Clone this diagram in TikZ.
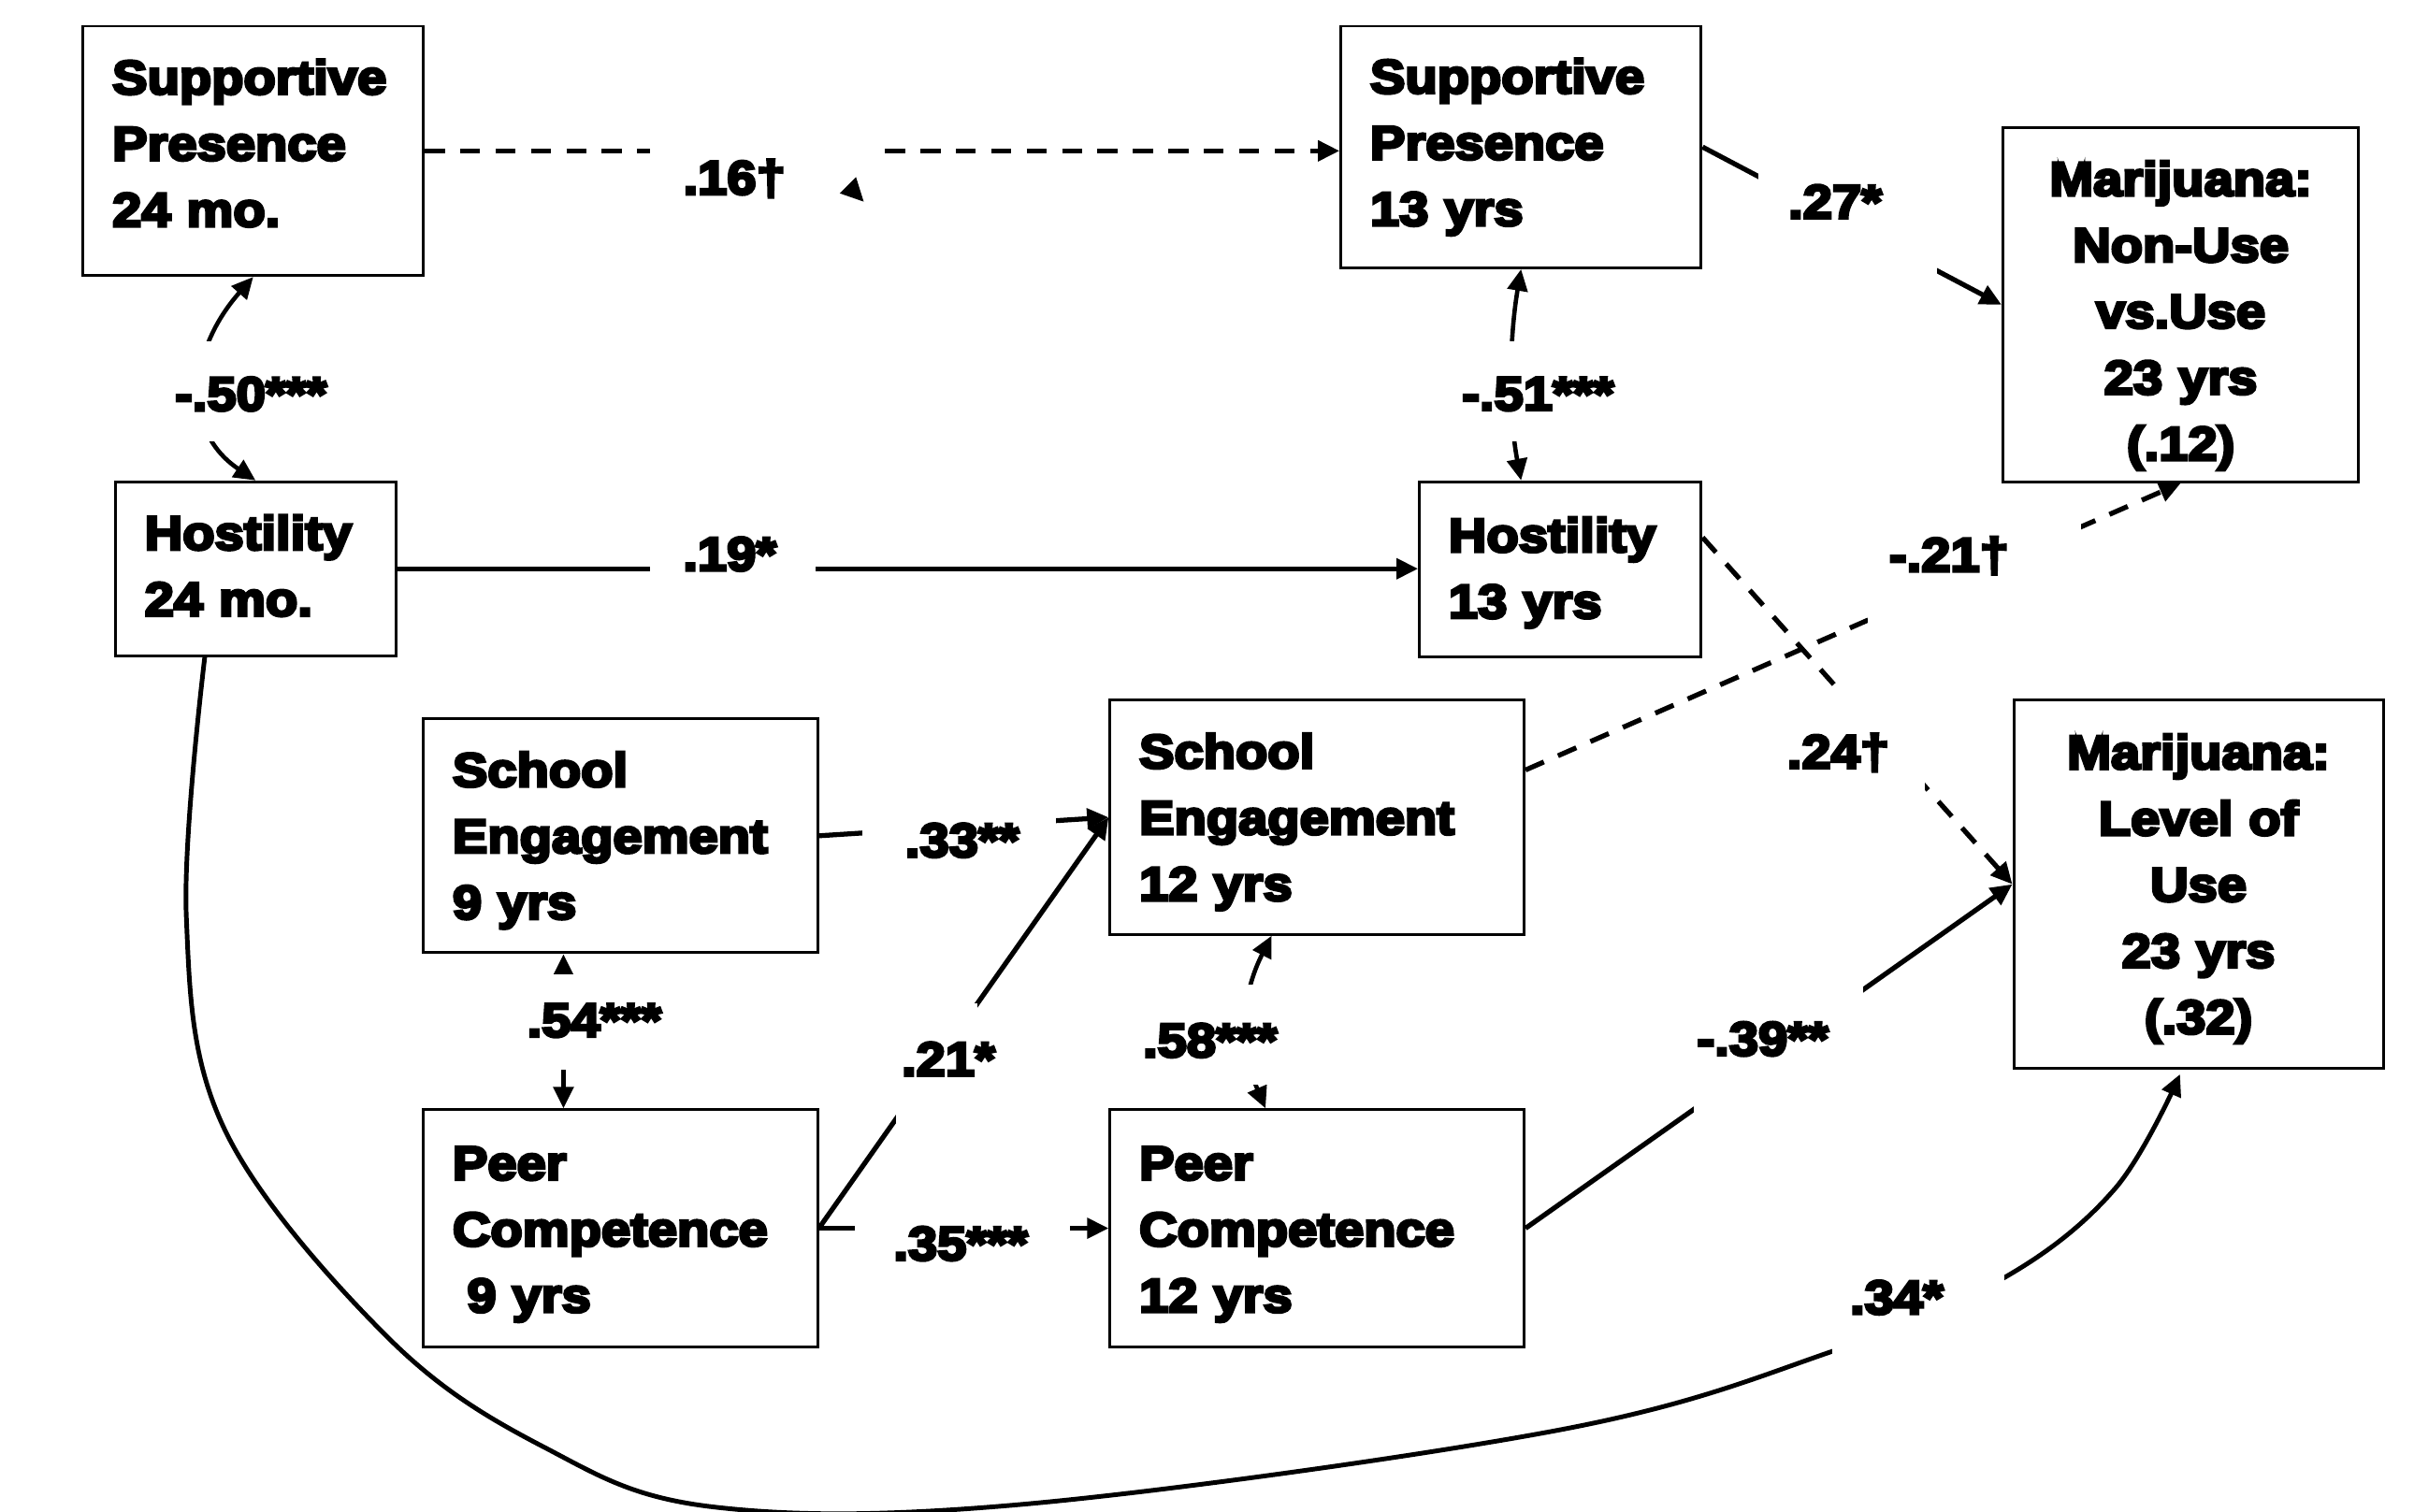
\documentclass[tikz,border=0pt]{standalone}
\usepackage{fontspec}
\newfontfamily\heavyfont{Liberation Sans}[BoldFeatures={FakeBold=6,FakeStretch=1.1}]
\usetikzlibrary{arrows.meta,calc}
\newcommand\diagfont{\heavyfont\bfseries\fontsize{15.5}{21.5}\selectfont}
\begin{document}
\begin{tikzpicture}[x=0.5pt,y=-0.5pt,
  >={Triangle[length=7pt,width=6.5pt]},
  vbox/.style={draw, line width=0.9pt, inner xsep=9.5pt, inner ysep=0pt, font=\diagfont, align=left},
  cbox/.style={vbox, align=center},
  tup/.style={execute at end node={\endgraf\vspace*{#1}}},
  conn/.style={line width=1.6pt, ->},
  dconn/.style={conn, dash pattern=on 6.5pt off 5pt},
  corr/.style={line width=1.4pt, <->},
  lbl/.style={font=\diagfont, inner sep=1pt}]
\useasboundingbox (0,0) rectangle (1568,982);
\fill[white] (0,0) rectangle (1568,982);
% boxes
\node[vbox, tup=5pt, text width=91.5pt, minimum height=81pt] (sp24) at (164.5,98) {Supportive\\Presence\\24 mo.};
\node[vbox, text width=98pt, minimum height=78.5pt] (sp13) at (988,95.5) {Supportive\\Presence\\13 yrs};
\node[cbox, tup=-7pt, text width=96.5pt, minimum height=115pt] (mj1) at (1416.5,198) {Marijuana:\\Non-Use\\vs.Use\\23 yrs\\(.12)};
\node[vbox, tup=2pt, text width=72pt, minimum height=56.5pt] (h24) at (166,369.5) {Hostility\\24 mo.};
\node[vbox, tup=-2pt, text width=72.5pt, minimum height=57pt] (h13) at (1013.5,370) {Hostility\\13 yrs};
\node[vbox, tup=-3pt, text width=109pt, minimum height=76pt] (se9) at (403,543) {School\\Engagement\\9 yrs};
\node[vbox, tup=-3pt, text width=115.5pt, minimum height=76pt] (se12) at (855.5,531) {School\\Engagement\\12 yrs};
\node[cbox, tup=-3pt, text width=101pt, minimum height=119.5pt] (mj2) at (1428,574.5) {Marijuana:\\Level of\\Use\\23 yrs\\(.32)};
\node[vbox, tup=-4pt, text width=109pt, minimum height=77pt] (pc9) at (403,798) {Peer\\Competence\\\hspace*{4.7pt}9 yrs};
\node[vbox, tup=-4pt, text width=115.5pt, minimum height=77pt] (pc12) at (855.5,798) {Peer\\Competence\\12 yrs};
% connectors
\draw[dconn] (sp24.east) -- (sp24.east -| sp13.west);
\draw[conn] (h24.east) -- (h24.east -| h13.west);
\draw[conn] (sp13.east) -- (mj1.west);
\draw[dconn] ($(se12.north east)!0.3!(se12.south east)$) -- (mj1.south);
\draw[dconn] ($(h13.north east)!0.32!(h13.south east)$) -- (mj2.west);
\draw[conn] (se9.east) -- (se12.west);
\draw[conn] (pc9.east) -- (se12.west);
\draw[conn] (pc9.east) -- (pc12.west);
\draw[conn] (pc12.east) -- (mj2.west);
\draw[corr] ($(se9.south)+(-37,0)$) -- ($(pc9.north)+(-37,0)$);
\draw[corr] ($(se12.south)+(-29.5,0)$) to[bend right=25] ($(pc12.north)+(-33.5,0)$);
\draw[corr] (h24.north) .. controls (118,280) and (122,228) .. (sp24.south);
\draw[corr] ($(h13.north)+(-25.5,0)$) .. controls (980,270) and (980,222) .. (sp13.south);
\coordinate (c0) at ($(h24.south)+(-33,0)$);
\coordinate (c1) at ($(mj2.south)+(-12,3)$);
\draw[conn, line width=1.5pt] plot[smooth, tension=0.6] coordinates {(c0) (121,595) (146,734) (252,869) (353,940) (463,979) (668,977) (1013,929) (1190,878) (1302,830) (1374,772) (c1)};
% gaps in the connectors behind the labels
\fill[white] (422,90) rectangle (565,104);
\fill[white] (100,222) rectangle (230,287);
\fill[white] (940,222) rectangle (1060,287);
\fill[white] (422,360) rectangle (530,380);
\fill[white] (1142,100) rectangle (1258,178);
\fill[white] (1213,330) rectangle (1352,410);
\fill[white] (1196,445) rectangle (1250,516);
\fill[white] (560,525) rectangle (686,555);
\fill[white] (582,652) rectangle (635,730);
\fill[white] (555,788) rectangle (695,808);
\fill[white] (340,633) rectangle (400,695);
\fill[white] (790,640) rectangle (840,705);
\fill[white] (1100,635) rectangle (1210,725);
\fill[white] (1190,820) rectangle (1302,885);
% labels
\node[lbl] (l16) at (477,116) {.16†};
\fill (556,115) -- (545.5,125.6) -- (561,131) -- cycle;
\node[lbl] (l50) at (163,256) {-.50***};
\node[lbl] (l51) at (999,256) {-.51***};
\node[lbl] (l19) at (474,360) {.19*};
\node[lbl] (l27) at (1192,131) {.27*};
\node[lbl] (l21a) at (1266,361) {-.21†};
\node[lbl] (l24) at (1194,489) {.24†};
\node[lbl] (l33) at (625,546) {.33**};
\node[lbl] (l21b) at (616,688) {.21*};
\node[lbl] (l35) at (624,808) {.35***};
\node[lbl] (l54) at (386,663) {.54***};
\node[lbl] (l58) at (786,676) {.58***};
\node[lbl] (l39) at (1145,675) {-.39**};
\node[lbl] (l34) at (1232,843) {.34*};
\end{tikzpicture}
\end{document}
